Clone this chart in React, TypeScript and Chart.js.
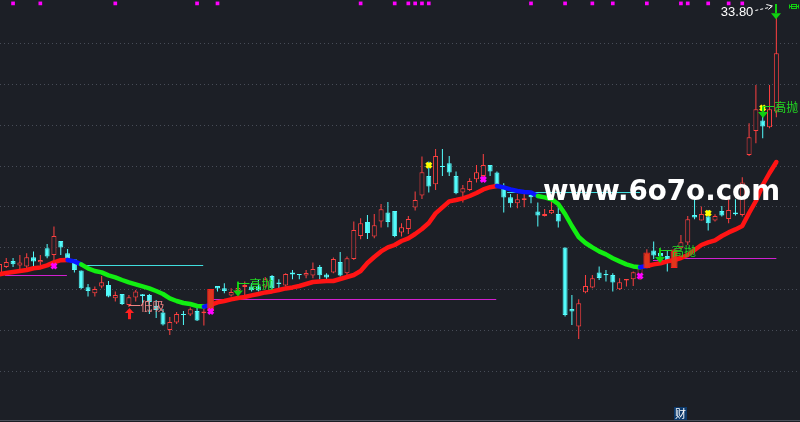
import React, { useEffect, useRef } from "react";
import { Chart, registerables } from "chart.js";

Chart.register(...registerables);

// ---------- data (prices) ----------
const OPEN = [21.05,21.35,21.65,21.42,21.37,21.84,21.59,22.29,21.95,22.65,22.04,21.74,21.17,20.34,20.04,20.37,20.45,19.79,20.0,19.45,19.83,19.99,19.95,19.4,19.08,18.2,18.58,19.0,18.97,19.15,19.04,19.2,20.4,20.29,19.92,20.15,20.35,20.37,20.37,20.37,20.9,20.57,20.42,21.07,21.0,20.92,20.92,21.35,20.97,21.07,21.6,21.04,21.75,22.9,23.6,22.87,23.62,24.07,24.15,23.07,23.25,24.32,24.92,25.9,25.49,26.4,26.54,25.9,25.07,25.2,25.74,25.9,26.45,26.07,25.4,24.84,24.54,24.7,24.95,24.12,23.9,24.04,24.0,22.32,19.25,18.37,20.09,20.32,21.07,21.0,20.95,20.24,20.67,20.74,20.95,21.35,22.17,22.05,21.9,21.35,22.29,22.57,23.95,23.67,23.87,23.67,24.15,23.75,24.07,23.95,26.95,28.15,28.67,28.34,29.12];
const HIGH = [21.6,21.8,21.8,21.95,22.04,22.12,21.95,22.5,23.37,22.65,22.25,21.74,21.17,20.5,20.37,20.9,20.65,20.12,20.0,19.95,20.2,20.0,20.0,19.7,19.25,18.85,19.1,19.15,19.32,19.3,19.5,20.25,20.4,20.54,20.29,20.4,20.62,20.54,20.7,20.85,20.95,20.74,21.04,21.2,21.0,21.2,21.57,21.45,21.04,21.82,22.1,21.87,23.62,23.79,23.95,24.0,24.5,24.6,24.15,23.54,23.9,25.12,26.87,26.62,27.25,27.25,26.9,26.12,25.45,25.79,26.45,27.0,26.45,26.12,25.54,25.0,25.0,25.0,25.04,24.57,24.25,24.62,24.37,22.32,19.95,19.74,20.95,20.95,21.37,21.2,21.04,20.79,20.75,21.12,21.45,22.24,22.63,22.3,22.2,22.24,22.95,23.9,24.87,24.37,24.2,23.99,24.4,24.74,24.74,25.84,28.54,30.45,29.12,30.45,33.8];
const LOW = [20.95,21.3,21.35,21.2,21.17,21.37,21.45,21.79,21.62,21.95,21.62,21.07,20.24,19.87,19.87,20.29,19.84,19.62,19.45,19.35,19.63,19.48,19.0,18.8,18.43,17.95,18.5,18.45,18.9,18.65,18.42,19.1,20.12,20.04,19.87,20.0,19.95,20.12,20.12,20.3,20.2,20.24,20.37,20.74,20.74,20.79,20.79,20.74,20.7,21.04,20.87,20.87,21.7,22.74,22.75,22.79,23.32,23.34,22.84,22.87,23.0,24.17,24.75,25.07,25.2,25.9,25.9,24.99,24.57,25.15,25.57,25.62,25.9,25.37,24.07,24.32,24.29,24.34,24.54,23.37,23.87,24.0,23.32,18.87,18.45,17.75,20.04,20.29,20.7,20.62,20.12,20.2,20.37,20.4,20.7,21.3,21.75,21.7,21.12,21.3,22.24,22.45,23.74,23.67,23.17,23.62,23.87,23.54,23.92,23.87,26.9,27.54,27.79,28.29,28.84];
const CLOSE = [21.5,21.6,21.49,21.57,21.84,21.62,21.7,21.87,22.9,22.32,21.74,21.2,20.29,20.15,20.25,20.59,19.87,19.95,19.5,19.84,20.13,19.9,19.6,19.2,18.48,18.6,19.0,18.95,19.24,18.67,19.12,20.15,20.27,20.15,20.1,20.3,20.45,20.19,20.17,20.74,20.29,20.5,21.0,20.97,20.95,21.05,21.25,20.94,20.82,21.75,20.92,21.79,23.2,23.54,23.05,23.44,24.24,23.6,22.9,23.34,23.75,24.7,26.09,25.37,26.9,26.35,26.07,25.04,25.29,25.65,26.09,26.45,26.12,25.42,24.82,24.54,24.74,24.79,24.84,23.92,24.0,24.2,23.62,18.95,19.12,19.54,20.4,20.79,20.8,20.94,20.57,20.59,20.75,21.09,21.3,21.9,21.93,21.87,21.67,22.1,22.59,23.74,23.82,24.0,23.54,23.9,23.92,24.2,23.99,25.57,27.84,29.24,28.37,29.24,32.04];
const MA_LINE = [20.99,21.05,21.1,21.15,21.2,21.29,21.33,21.43,21.58,21.69,21.7,21.63,21.48,21.28,21.15,21.08,20.93,20.83,20.7,20.58,20.48,20.38,20.28,20.15,20.0,19.78,19.65,19.55,19.5,19.4,19.37,19.45,19.58,19.65,19.73,19.8,19.85,19.93,20.0,20.08,20.13,20.2,20.28,20.33,20.4,20.5,20.6,20.63,20.65,20.65,20.75,20.85,20.95,21.15,21.55,21.85,22.13,22.33,22.45,22.65,22.78,23.0,23.25,23.55,24.03,24.33,24.63,24.7,24.78,24.9,25.05,25.23,25.34,25.4,25.33,25.23,25.15,25.1,25.07,24.9,24.83,24.74,24.5,24.0,23.4,22.85,22.55,22.33,22.13,21.98,21.79,21.63,21.48,21.38,21.34,21.4,21.48,21.54,21.63,21.7,21.8,21.95,22.2,22.45,22.58,22.68,22.9,23.08,23.23,23.4,24.05,24.65,25.45,26.05,26.6];
const MA_TREND: [number, number, string][] = [[0,10,"up"],[10,12,"flat"],[12,30,"down"],[30,31,"flat"],[31,73,"up"],[73,79,"flat"],[79,94,"down"],[94,95,"flat"],[95,114,"up"]];
const STICK_IDX = [31, 95, 99];
const STICK_TOP = [20.25, 22.07, 22.23];
const STICK_BOTTOM = [19.15, 21.29, 21.3];
const SIGNAL_IDX = [2,6,17,29,32,53,58,60,61,62,63,78,83,87,90,95,100,101,104,107,109];
const SIGNAL_LEVEL = 34.53;
const YELLOW_X_IDX = [63, 104, 112];
const YELLOW_X_LEVEL = [26.44, 24.04, 29.3];
const MAGENTA_X_IDX = [8, 31, 71, 94];
const MAGENTA_X_LEVEL = [21.4, 19.13, 25.73, 20.9];
const HLINE_START = [0.8, 12.1, 31.3, 74.5, 95.9, 99.9];
const HLINE_END = [9.9, 29.9, 72.9, 94, 97.6, 114];
const HLINE_LEVEL = [20.925, 21.425, 19.725, 25.075, 21.675, 21.775];
const HLINE_KIND = ["m", "c", "m", "c", "m", "m"];
const ARROW_IDX = [19, 35, 97, 112, 114];
const ARROW_TIP = [19.3, 19.87, 21.55, 28.8, 33.74];
const ARROW_TAIL = [18.74, 20.62, 22.3, 29.38, 34.5];
const ARROW_KIND = ["buy", "sell", "sell", "sell", "sell"];
const LABEL_TEXT = ["低吸", "高抛", "高抛", "高抛"];
const LABEL_IDX = [19, 35, 97, 112];
const LABEL_LEVEL = [19.44, 20.54, 22.2, 29.39];
const LABEL_KIND = ["buy", "sell", "sell", "sell"];
const GRID_LEVELS = [32.55, 30.5, 28.45, 26.4, 24.35, 22.3, 20.25, 18.2, 16.15];
const BASELINE_LEVEL = 13.675;
const Y_MIN = 13.6;
const Y_MAX = 34.7;
const X_MIN = 0.083;
const X_MAX = 117.471;
const FIN_MARK_IDX = 100;
const FIN_MARK_TEXT = "财";
const WATERMARK = "www.6o7o.com";

// ---------- styles ----------
const BG = "#1c1f26";
const RED = "#ff4040";
const CYAN = "#52fbfb";
const MA_COLORS: Record<string, string> = { up: "#ff1414", down: "#12ee12", flat: "#0a14ff" };
const HLINE_COLORS: Record<string, string> = { m: "#d020d0", c: "#40dede" };

function trendOf(seg: number): string {
  for (const [a, b, k] of MA_TREND) if (seg >= a && seg < b) return k;
  return "up";
}

const overlayPlugin = {
  id: "overlay",
  afterDatasetsDraw(chart: any) {
    const ctx: CanvasRenderingContext2D = chart.ctx;
    const xs = chart.scales.x;
    const ys = chart.scales.y;
    const px = (v: number) => xs.getPixelForValue(v);
    const py = (v: number) => ys.getPixelForValue(v);
    ctx.save();

    // bottom border
    ctx.strokeStyle = "#4d525c";
    ctx.lineWidth = 1;
    ctx.beginPath();
    const by = py(BASELINE_LEVEL);
    ctx.moveTo(0, by);
    ctx.lineTo(chart.width, by);
    ctx.stroke();

    // arrows
    ARROW_IDX.forEach((idx, k) => {
      const buy = ARROW_KIND[k] === "buy";
      const x = Math.round(px(idx)) + (buy ? 0.5 : 0);
      const tip = py(ARROW_TIP[k]);
      const tail = py(ARROW_TAIL[k]);
      const dir = buy ? -1 : 1;
      const headH = buy ? 5 : 6;
      const headW = buy ? 4.5 : 5;
      const shaftW = buy ? 3 : 2;
      const headBase = tip - dir * headH;
      ctx.fillStyle = buy ? "#ff2020" : "#10d010";
      ctx.fillRect(x - shaftW / 2, Math.min(tail, headBase), shaftW, Math.abs(headBase - tail));
      ctx.beginPath();
      ctx.moveTo(x - headW, headBase);
      ctx.lineTo(x + headW, headBase);
      ctx.lineTo(x, tip);
      ctx.closePath();
      ctx.fill();
    });

    // signal labels
    ctx.font = '12px "Noto Sans CJK SC"';
    ctx.textBaseline = "middle";
    ctx.textAlign = "left";
    LABEL_TEXT.forEach((t, k) => {
      const x = px(LABEL_IDX[k]);
      const y = Math.round(py(LABEL_LEVEL[k])) + 0.5;
      const col = LABEL_KIND[k] === "buy" ? "#f08484" : "#22d822";
      ctx.strokeStyle = col;
      ctx.lineWidth = 1;
      ctx.beginPath();
      ctx.moveTo(x, y);
      ctx.lineTo(x + 11.5, y);
      ctx.stroke();
      ctx.fillStyle = col;
      ctx.fillText(t, x + 11.5, y + 0.5);
    });

    // highest price label
    const hiVal = Math.max(...HIGH);
    const hiIdx = HIGH.indexOf(hiVal);
    const hx = px(hiIdx);
    const hy = py(hiVal);
    ctx.font = '13px "Liberation Sans"';
    ctx.fillStyle = "#ffffff";
    ctx.textAlign = "right";
    ctx.fillText(hiVal.toFixed(2), hx - 23, hy - 6);
    ctx.strokeStyle = "#ffffff";
    ctx.setLineDash([3, 2]);
    ctx.beginPath();
    ctx.moveTo(hx - 21, hy - 7.5);
    ctx.lineTo(hx - 5, hy - 11);
    ctx.stroke();
    ctx.setLineDash([]);
    ctx.beginPath();
    ctx.moveTo(hx - 10, hy - 13.5);
    ctx.lineTo(hx - 4, hy - 12);
    ctx.lineTo(hx - 8, hy - 8.5);
    ctx.stroke();

    // small green icon at the top right
    const gx = Math.round(hx) + 13.5;
    const gy = Math.round(hy) - 13.5;
    ctx.strokeStyle = "#10d010";
    ctx.beginPath();
    ctx.moveTo(gx, gy);
    ctx.lineTo(gx, gy + 4);
    ctx.moveTo(gx + 9, gy);
    ctx.lineTo(gx + 9, gy + 4);
    ctx.moveTo(gx, gy + 2);
    ctx.lineTo(gx + 9, gy + 2);
    ctx.stroke();
    ctx.strokeRect(gx + 2, gy, 5, 4);

    // financial report mark
    const fx = Math.round(px(FIN_MARK_IDX)) - 7;
    const fy = Math.round(py(BASELINE_LEVEL)) - 14;
    ctx.fillStyle = "#0d3a6c";
    ctx.fillRect(fx, fy, 13, 13);
    ctx.fillStyle = "#ffffff";
    ctx.font = '11px "Noto Sans CJK SC"';
    ctx.textAlign = "center";
    ctx.fillText(FIN_MARK_TEXT, fx + 6.5, fy + 7);

    // watermark
    ctx.font = 'bold 28px "DejaVu Sans"';
    ctx.fillStyle = "#ffffff";
    ctx.textAlign = "left";
    ctx.textBaseline = "alphabetic";
    ctx.fillText(WATERMARK, 543, 200, 237);

    ctx.restore();
  },
};

export default function App() {
  const ref = useRef<HTMLCanvasElement>(null);

  useEffect(() => {
    document.body.style.margin = "0";
    document.body.style.background = BG;
    const idx = CLOSE.map((_, i) => i);
    const up = idx.map((i) => CLOSE[i] >= OPEN[i]);

    const wickData = idx.map((i) => ({ x: i, y: [LOW[i], HIGH[i]] }));
    const bodyData = idx.map((i) => ({ x: i, y: [OPEN[i], CLOSE[i]] }));
    const stickData = STICK_IDX.map((s, k) => ({ x: s, y: [STICK_BOTTOM[k], STICK_TOP[k]] }));
    const maData = MA_LINE.map((v, i) => ({ x: i, y: v }));

    const hlineSets = HLINE_START.map((s, k) => ({
      type: "line" as const,
      data: [
        { x: s, y: HLINE_LEVEL[k] },
        { x: HLINE_END[k], y: HLINE_LEVEL[k] },
      ],
      borderColor: HLINE_COLORS[HLINE_KIND[k]],
      borderWidth: 1,
      pointRadius: 0,
      order: 6,
    }));

    const chart = new Chart(ref.current as HTMLCanvasElement, {
      type: "bar",
      data: {
        datasets: [
          {
            type: "scatter",
            data: SIGNAL_IDX.map((s) => ({ x: s, y: SIGNAL_LEVEL })),
            pointStyle: "rect",
            pointRadius: 2.6,
            pointBorderWidth: 0,
            backgroundColor: "#ff00ff",
            borderColor: "#ff00ff",
            order: 0,
          },
          {
            type: "scatter",
            data: YELLOW_X_IDX.map((s, k) => ({ x: s, y: YELLOW_X_LEVEL[k] })),
            pointStyle: "crossRot",
            pointRadius: 3.5,
            pointBorderWidth: 3,
            borderColor: "#ffff00",
            backgroundColor: "#ffff00",
            order: 0,
          },
          {
            type: "scatter",
            data: MAGENTA_X_IDX.map((s, k) => ({ x: s, y: MAGENTA_X_LEVEL[k] })),
            pointStyle: "crossRot",
            pointRadius: 3.5,
            pointBorderWidth: 3,
            borderColor: "#ff00ff",
            backgroundColor: "#ff00ff",
            order: 0,
          },
          {
            type: "bar",
            data: stickData,
            backgroundColor: "#e0361c",
            borderColor: "#ff1e1e",
            borderWidth: 1,
            borderSkipped: false,
            barThickness: 7,
            maxBarThickness: 7,
            grouped: false,
            inflateAmount: 0,
            order: 1,
          },
          {
            type: "line",
            data: maData,
            borderWidth: 4.5,
            pointRadius: 0,
            borderCapStyle: "round",
            borderJoinStyle: "round",
            borderColor: MA_COLORS.up,
            segment: {
              borderColor: (c: any) => MA_COLORS[trendOf(c.p0DataIndex)],
            },
            order: 2,
          },
          {
            type: "bar",
            data: bodyData,
            backgroundColor: idx.map((i) => (up[i] ? BG : CYAN)),
            borderColor: idx.map((i) => (up[i] ? RED : CYAN)),
            borderWidth: 1,
            borderSkipped: false,
            barThickness: 5,
            maxBarThickness: 5,
            grouped: false,
            inflateAmount: 0,
            order: 3,
          },
          {
            type: "bar",
            data: wickData,
            backgroundColor: idx.map((i) => (up[i] ? RED : CYAN)),
            borderWidth: 0,
            barThickness: 1,
            maxBarThickness: 1,
            grouped: false,
            inflateAmount: 0,
            order: 4,
          },
          ...hlineSets,
        ] as any,
      },
      options: {
        animation: false,
        responsive: true,
        maintainAspectRatio: false,
        layout: { padding: 0, autoPadding: false },
        events: [],
        plugins: {
          legend: { display: false },
          tooltip: { enabled: false },
        },
        scales: {
          x: {
            type: "linear",
            min: X_MIN,
            max: X_MAX,
            offset: false,
            display: false,
          },
          y: {
            type: "linear",
            min: Y_MIN,
            max: Y_MAX,
            display: true,
            afterBuildTicks: (scale: any) => {
              scale.ticks = GRID_LEVELS.map((v) => ({ value: v }));
            },
            ticks: { display: false },
            grid: { color: "#474c57", drawTicks: false, lineWidth: 1 },
            border: { display: false, dash: [1, 3] },
          },
        },
      } as any,
      plugins: [overlayPlugin],
    });
    return () => chart.destroy();
  }, []);

  return (
    <div style={{ position: "fixed", left: 0, top: 0, width: 800, height: 422, background: BG }}>
      <canvas ref={ref} />
    </div>
  );
}
